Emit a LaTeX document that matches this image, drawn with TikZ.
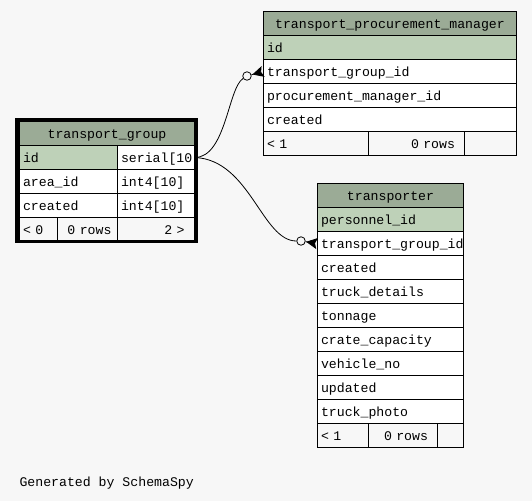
\documentclass[tikz,border=0pt]{standalone}
\usepackage{fontspec}
\setmonofont{Liberation Mono}
\usepackage{tikz}
\usetikzlibrary{arrows.meta}
\definecolor{headbg}{HTML}{9BAB96}
\definecolor{pkbg}{HTML}{BED1B8}
\definecolor{pagebg}{HTML}{F7F7F7}
\tikzstyle{cell}=[draw,line width=1pt,fill=white,anchor=north west,minimum height=24pt,inner xsep=3.5pt,inner ysep=0pt,text height=12pt,text depth=3pt,align=left,font=\ttfamily\fontsize{13.2}{15}\selectfont]
\tikzstyle{head}=[cell,fill=headbg,align=center]
\tikzstyle{pk}=[cell,fill=pkbg]
\tikzstyle{foot}=[cell,fill=pagebg]
\tikzstyle{rows}=[foot,align=right,inner xsep=9.5pt]
\tikzstyle{odot}=[circle,draw,fill=pagebg,minimum size=8.5pt,inner sep=0pt,line width=.8pt]
\tikzstyle{edge} = [draw,line width=.8pt]

\begin{document}
\begin{tikzpicture}[x=1pt,y=-1pt]
      \tikzset{crow/.style = {edge,-{Stealth[reversed,length=11pt,width=11pt,inset=2pt]}}}
      \fill[pagebg] (0,0) rectangle (532,501);
      \node[head,text width=168pt] (tg) at (19,121) {transport\_group};
      \node[pk,text width=91pt] (tgid) at (19,145) {id};
      \node[cell,text width=70pt] (tgidt) at (117,145) {serial[10]};
      \node[cell,text width=91pt] (tgarea) at (19,169) {area\_id};
      \node[cell,text width=70pt] (tgareat) at (117,169) {int4[10]};
      \node[cell,text width=91pt] (tgcr) at (19,193) {created};
      \node[cell,text width=70pt] (tgcrt) at (117,193) {int4[10]};
      \node[foot,text width=31pt] (tgprev) at (19,217) {< 0};
      \node[rows,inner xsep=6pt,text width=48pt] (tgrows) at (57,217) {0 rows};
      \node[rows,inner xsep=10pt,text width=57pt] (tgnext) at (117,217) {2 >};
      \draw[line width=3.5pt] (17,120) rectangle (196,241.7);
      \node[head,text width=246pt] (tpm) at (263,11) {transport\_procurement\_manager};
      \node[pk,text width=246pt] (tpmid) at (263,35) {id};
      \node[cell,text width=246pt] (tpmfk) at (263,59) {transport\_group\_id};
      \node[cell,text width=246pt] (tpmpm) at (263,83) {procurement\_manager\_id};
      \node[cell,text width=246pt] (tpmcr) at (263,107) {created};
      \node[foot,text width=98pt] (tpmprev) at (263,131) {< 1};
      \node[rows,text width=77pt] (tpmrows) at (368,131) {0 rows};
      \node[foot,text width=45pt] (tpmnext) at (464,131) {};
      \node[head,text width=139pt] (tr) at (317,183) {transporter};
      \node[pk,text width=139pt] (trid) at (317,207) {personnel\_id};
      \node[cell,text width=139pt] (trfk) at (317,231) {transport\_group\_id};
      \node[cell,text width=139pt] (trcr) at (317,255) {created};
      \node[cell,text width=139pt] (trtd) at (317,279) {truck\_details};
      \node[cell,text width=139pt] (trton) at (317,303) {tonnage};
      \node[cell,text width=139pt] (trcc) at (317,327) {crate\_capacity};
      \node[cell,text width=139pt] (trvn) at (317,351) {vehicle\_no};
      \node[cell,text width=139pt] (trup) at (317,375) {updated};
      \node[cell,text width=139pt] (trph) at (317,399) {truck\_photo};
      \node[foot,text width=44pt] (trprev) at (317,423) {< 1};
      \node[rows,text width=50pt] (trrows) at (368,423) {0 rows};
      \node[foot,text width=19pt] (trnext) at (437,423) {};
      \node[odot] (c1) at (247,76) {};
      \node[odot] (c2) at (301,241) {};
      \draw[edge] (tgidt.east) .. controls (226,157) and (228,88) .. (c1);
      \draw[edge] (tgidt.east) .. controls (250,160) and (262,241) .. (c2);
      \draw[crow] (c1) -- (tpmfk.west);
      \draw[crow] (c2) -- (trfk.west);
      \node[anchor=base west,font=\ttfamily\fontsize{13.2}{15}\selectfont] (gen) at (16,486.5) {Generated by SchemaSpy};
    \end{tikzpicture}
\end{document}
